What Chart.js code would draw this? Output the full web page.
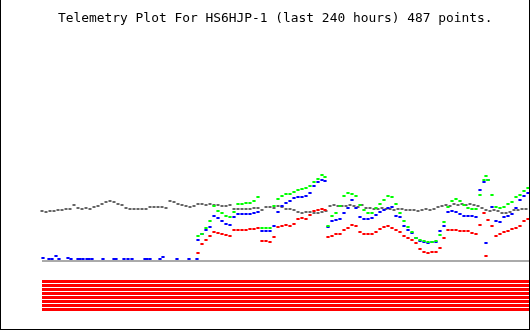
<!DOCTYPE html>
<html>
<head>
<meta charset="utf-8">
<script src="https://cdn.jsdelivr.net/npm/chart.js@4.4.1/dist/chart.umd.min.js"></script>
<style>
  html, body { margin: 0; padding: 0; background: #ffffff; }
  #wrap { position: relative; width: 530px; height: 330px; overflow: hidden; }
  #c { position: absolute; left: 0; top: 0; }
  #title { position: absolute; left: 58px; top: 11px; font-family: 'DejaVu Sans Mono', monospace; font-size: 12.9px; line-height: 13px; color: #000; white-space: pre; }
  #frame { position: absolute; left: 0; top: 0; width: 530px; height: 330px; box-sizing: border-box; border-left: 1px solid #000; border-right: 1px solid #000; border-bottom: 1px solid #000; pointer-events: none; }
</style>
</head>
<body>
<div id="wrap">
  <canvas id="c" width="530" height="330"></canvas>
  <div id="title">Telemetry Plot For HS6HJP-1 (last 240 hours) 487 points.</div>
  <div id="frame"></div>
</div>
<script>
// ---- data (sample index 0..486 over the last 240 hours) ----
const totalPoints = 487;

// black channel: sampled every 4th point from index 0
const blackStep = 4;
const blackValues = [
  50,49,50,50,51,51,52,52,56,53,
  52,53,52,54,55,57,59,60,59,57,
  56,53,52,52,52,52,52,54,54,54,
  54,53,60,59,57,56,55,54,55,57,
  57,56,57,56,56,55,55,56,52,52,
  52,52,52,53,53,51,54,54,53,55,
  54,52,52,51,49,48,49,49,48,48,
  49,50,55,56,55,55,55,56,55,54,
  56,53,53,52,52,53,52,52,51,52,
  52,51,51,51,50,51,52,51,52,54,
  55,56,55,57,56,57,56,57,56,55,
  53,51,50,51,50,48,48,49,51,51,
  52,52
];

// colour channels: common sample indices
const colorIdx = [
  156,160,164,168,172,176,180,184,188,192,
  196,200,204,208,212,216,220,224,228,232,
  236,240,244,248,252,256,260,264,268,272,
  276,280,283,
  286,290,294,298,302,306,310,314,318,322,
  326,330,334,338,342,346,350,354,358,362,
  366,370,374,378,382,386,390,394,398,402,
  406,410,414,418,422,426,430,434,438,442,
  444,446,
  450,454,458,462,466,470,474,478,482,486
];
const greenValues = [
  25,27,33,40,55,50,48,45,44,49,
  57,57,58,58,60,64,33,33,33,55,
  62,65,67,67,69,71,72,73,75,79,
  82,86,84,
  35,45,48,55,65,68,67,65,56,51,
  48,48,53,57,61,65,64,57,48,40,
  34,29,23,21,20,19,19,20,26,39,
  54,60,62,60,56,53,52,52,66,81,
  85,81,
  66,54,53,54,57,59,64,66,70,73
];
const blueValues = [
  21,27,31,34,45,43,40,37,36,44,
  47,47,47,47,48,49,30,30,30,35,
  49,55,58,60,63,64,64,65,68,75,
  79,81,80,
  34,40,41,42,48,53,61,53,44,42,
  42,43,46,49,51,53,54,45,44,35,
  31,28,23,20,19,18,19,19,30,35,
  49,50,49,47,45,45,45,44,71,79,
  18,81,
  54,40,39,44,45,47,53,61,65,68
];
const redValues = [
  8,17,21,25,29,28,27,26,25,31,
  31,31,31,32,32,33,20,20,19,24,
  34,35,36,35,37,42,43,42,46,50,
  51,52,51,
  24,25,27,27,31,33,36,35,29,27,
  27,27,29,32,34,35,33,31,29,25,
  23,21,18,12,9,8,9,9,13,23,
  31,31,31,30,30,30,28,27,36,48,
  5,41,
  35,25,27,29,30,32,33,35,40,42
];

// blue channel readings before the colour channels come alive (near zero)
const blueEarlyIdx = [1,7,10,14,17,26,29,36,38,41,45,47,50,61,72,74,82,86,90,103,105,108,118,121,135,147,155];
const blueEarlyValues = [3,2,2,5,2,3,2,2,2,2,2,2,2,2,2,2,2,2,2,2,2,2,2,4,2,2,2];

// digital bits (all set)
const bitStates = [1,1,1,1,1,1,1,1];

// ---- build datasets ----
const pts = (xs, ys) => xs.map((x, i) => ({ x: x, y: ys[i] }));
const blackIdx = blackValues.map((_, i) => i * blackStep);

const dash = (color, data, r, w) => ({
  data: data, showLine: false, pointStyle: 'line', pointRadius: r, pointHoverRadius: r,
  borderColor: color, backgroundColor: color, pointBorderWidth: w, borderWidth: w
});

const datasets = [];
datasets.push({ data: [{x: 0, y: 0}, {x: 488, y: 0}], showLine: true, borderColor: '#aaaaaa', borderWidth: 2, pointRadius: 0 });
datasets.push(dash('#ff0000', pts(colorIdx, redValues), 1.6, 2));
datasets.push(dash('#00ff00', pts(colorIdx, greenValues), 1.6, 2));
datasets.push(dash('#0000ff', pts(blueEarlyIdx, blueEarlyValues).concat(pts(colorIdx, blueValues)), 1.6, 2));
datasets.push(dash('#404040', pts(blackIdx, blackValues), 1.5, 1.6));
bitStates.forEach((b, k) => {
  if (b) {
    const row = -20.5 - 4 * k;
    datasets.push({ data: [{x: 0, y: row}, {x: totalPoints, y: row}], showLine: true, borderColor: '#ff0000', borderWidth: 3, pointRadius: 0 });
  }
});

new Chart(document.getElementById('c'), {
  type: 'scatter',
  data: { datasets: datasets },
  options: {
    responsive: false,
    devicePixelRatio: 1,
    animation: false,
    events: [],
    layout: { padding: 0, autoPadding: false },
    plugins: { legend: { display: false }, tooltip: { enabled: false }, title: { display: false } },
    scales: {
      x: { type: 'linear', display: false, min: -42, max: 488 },
      y: { type: 'linear', display: false, min: -69, max: 261 }
    }
  }
});
</script>
</body>
</html>
